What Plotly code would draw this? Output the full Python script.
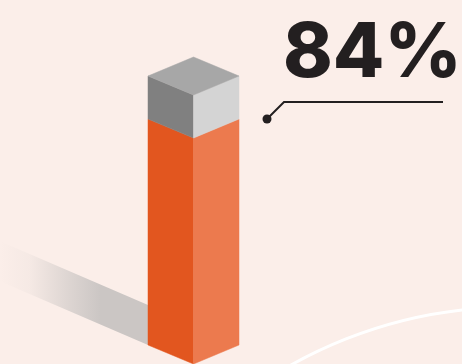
import plotly.graph_objects as go

# ---------------- data ----------------
segment_names = ["Yes", "Other"]
segment_values = [84, 16]          # percent, stacked bottom -> top
label_text = "84%"

# ---------------- style ----------------
BG = "#FBEEE9"
TEXT = "#231F20"
face_colors = {
    "Yes":   {"left": "#E2561F", "right": "#EC7A4E", "top": "#EC7A4E"},
    "Other": {"left": "#808080", "right": "#D4D4D4", "top": "#A7A7A7"},
}
SHADOW = "203,198,196"

W, H = 462, 364
PX_PER_UNIT = 2.69          # vertical pixels per percent point
BASE_PX = 345               # pixel row of value 0 at bar edges
cx, hw = 193.5, 45.5        # bar front-edge x and half width (x axis in px)
iso = 19 / PX_PER_UNIT      # isometric rise of the top face in value units

y_max = BASE_PX / PX_PER_UNIT
y_min = -(H - BASE_PX) / PX_PER_UNIT

fig = go.Figure()

# shadow cast to the left (gradient fades out)
sh_h = 40 / PX_PER_UNIT
slope = 0.43 / PX_PER_UNIT
x_far = 0
sx = [cx - hw, cx - hw, x_far, x_far, cx - hw]
sy = [0, sh_h, sh_h + (cx - hw - x_far) * slope, (cx - hw - x_far) * slope, 0]
fig.add_trace(go.Scatter(
    x=sx, y=sy, mode="lines", fill="toself", line=dict(width=0),
    fillgradient=dict(type="horizontal", colorscale=[
        [0.0, f"rgba({SHADOW},0)"], [0.2, f"rgba({SHADOW},0.12)"],
        [0.45, f"rgba({SHADOW},0.6)"], [0.68, f"rgba({SHADOW},1)"],
        [1.0, f"rgba({SHADOW},1)"]]),
    hoverinfo="skip", showlegend=False))

# stacked isometric bar
v0 = 0
for i, (name, val) in enumerate(zip(segment_names, segment_values)):
    v1 = v0 + val
    c = face_colors[name]
    left = ([cx - hw, cx, cx, cx - hw, cx - hw], [v0, v0 - iso, v1 - iso, v1, v0])
    right = ([cx, cx + hw, cx + hw, cx, cx], [v0 - iso, v0, v1, v1 - iso, v0 - iso])
    for (px, py), col in ((left, c["left"]), (right, c["right"])):
        fig.add_trace(go.Scatter(x=px, y=py, mode="lines", fill="toself",
                                 fillcolor=col, line=dict(width=0.5, color=col),
                                 hoverinfo="skip", showlegend=False))
    if i == len(segment_values) - 1:
        tx = [cx - hw, cx, cx + hw, cx, cx - hw]
        ty = [v1, v1 + iso, v1, v1 - iso, v1]
        fig.add_trace(go.Scatter(x=tx, y=ty, mode="lines", fill="toself",
                                 fillcolor=c["top"], line=dict(width=0.5, color=c["top"]),
                                 hoverinfo="skip", showlegend=False))
    v0 = v1

# leader line from the 84% level
lv = segment_values[0]
lx = [cx + hw + 28, cx + hw + 45, 443]
ly = [lv, lv + 17 / PX_PER_UNIT, lv + 17 / PX_PER_UNIT]
fig.add_trace(go.Scatter(x=lx, y=ly, mode="lines", line=dict(color=TEXT, width=2),
                         hoverinfo="skip", showlegend=False))
fig.add_trace(go.Scatter(x=[lx[0]], y=[ly[0]], mode="markers",
                         marker=dict(color=TEXT, size=9), hoverinfo="skip", showlegend=False))

fig.add_annotation(x=372, y=(BASE_PX - 49) / PX_PER_UNIT, text=label_text,
                   showarrow=False, xanchor="center", yanchor="middle", borderpad=0,
                   font=dict(family="Inter", size=75, color=TEXT, weight=800))

# decorative white arc
ccx, ccy, r = 512.3, (BASE_PX - 758.9) / PX_PER_UNIT, 451.7
fig.add_shape(type="circle", x0=ccx - r, x1=ccx + r,
              y0=ccy - r / PX_PER_UNIT, y1=ccy + r / PX_PER_UNIT,
              line=dict(color="white", width=3), layer="below")

fig.update_layout(
    width=W, height=H, margin=dict(l=0, r=0, t=0, b=0),
    paper_bgcolor=BG, plot_bgcolor=BG, showlegend=False,
    xaxis=dict(range=[0, W], visible=False, fixedrange=True),
    yaxis=dict(range=[y_min, y_max], visible=False, fixedrange=True),
)
fig.write_html("out.html")
